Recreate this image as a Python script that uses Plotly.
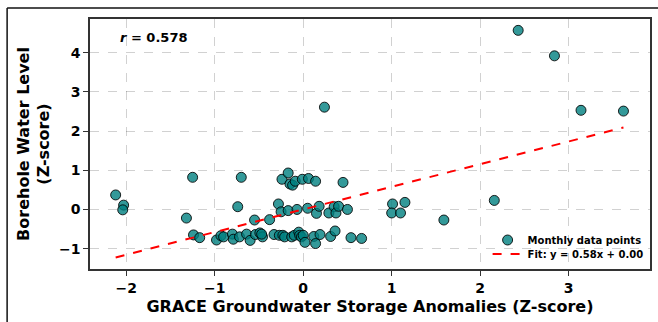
import plotly.graph_objects as go

# Data (GRACE Z-score vs borehole Z-score)
grace_z = [-2.12, -2.03, -2.04, -1.32, -1.25, -1.24, -1.17, -0.98, -0.93, -0.90,
           -0.80, -0.79, -0.74, -0.70, -0.72, -0.64, -0.60, -0.55, -0.54, -0.49,
           -0.46, -0.47, -0.38, -0.33, -0.28, -0.27, -0.25, -0.24, -0.23, -0.21,
           -0.17, -0.17, -0.15, -0.13, -0.12, -0.10, -0.09, -0.07, -0.05, -0.04,
           -0.01, -0.02, 0.00, 0.02, 0.05, 0.06, 0.12, 0.14, 0.15, 0.14,
           0.18, 0.19, 0.24, 0.29, 0.31, 0.35, 0.36, 0.37, 0.40, 0.45,
           0.50, 0.54, 0.66, 1.01, 1.00, 1.10, 1.15, 1.59, 2.16, 2.43,
           2.84, 3.14, 3.62]
borehole_z = [0.37, 0.11, -0.01, -0.22, 0.82, -0.65, -0.72, -0.78, -0.67, -0.70,
              -0.63, -0.76, 0.07, 0.82, -0.70, -0.63, -0.79, -0.27, -0.64, -0.60,
              -0.70, -0.63, -0.26, -0.64, 0.14, -0.66, -0.06, 0.77, -0.66, -0.70,
              0.93, -0.03, 0.65, -0.70, 0.62, -0.66, 0.72, 0.00, -0.58, -0.66,
              0.77, -0.70, -0.66, -0.84, 0.03, 0.79, -0.69, 0.72, -0.10, -0.87,
              0.08, -0.64, 2.61, -0.09, -0.69, 0.07, -0.55, -0.09, 0.08, 0.69,
              0.00, -0.72, -0.74, 0.14, -0.09, -0.09, 0.18, -0.27, 0.23, 4.57,
              3.92, 2.53, 2.51]

fit_slope = 0.578
fit_intercept = 0.0
r_value = 0.578

x_range = [-2.41, 3.92]
y_range = [-1.52, 4.86]
x_ticks = [-2, -1, 0, 1, 2, 3]
y_ticks = [-1, 0, 1, 2, 3, 4]

fit_x = [min(grace_z), max(grace_z)]
fit_y = [fit_slope * v + fit_intercept for v in fit_x]

FONT = "DejaVu Sans"

fig = go.Figure()
fig.add_trace(go.Scatter(
    x=grace_z, y=borehole_z, mode="markers", name="<b>Monthly data points</b>",
    marker=dict(size=10, color="rgba(0,128,128,0.8)",
                line=dict(color="rgba(0,0,0,0.85)", width=1)),
    legend="legend",
))
fig.add_trace(go.Scatter(
    x=fit_x, y=fit_y, mode="lines",
    name=f"<b>Fit: y = {fit_slope:.2f}x + {fit_intercept:.2f}</b>",
    line=dict(color="red", width=2, dash="dash"),
    legend="legend2",
))

axis_common = dict(
    showline=True, linecolor="#333333", linewidth=1.5, mirror=True,
    ticks="outside", ticklen=5, tickwidth=1.2, tickcolor="#333333",
    showgrid=True, gridcolor="rgba(0,0,0,0.18)", griddash="dash", gridwidth=1,
    zeroline=False,
    tickfont=dict(family=FONT, size=14, color="black", weight="bold"),
)

legend_common = dict(
    xanchor="left", yanchor="middle",
    bgcolor="rgba(0,0,0,0)", borderwidth=0,
    font=dict(family=FONT, size=10, color="black"),
    itemwidth=30,
)

fig.update_layout(
    width=658, height=322,
    margin=dict(l=90, r=6, t=19, b=53),
    paper_bgcolor="white", plot_bgcolor="white",
    font=dict(family=FONT, color="black"),
    xaxis=dict(range=x_range, tickvals=x_ticks,
               title=dict(text="<b>GRACE Groundwater Storage Anomalies (Z-score)</b>",
                          font=dict(family=FONT, size=16, color="black"), standoff=6),
               **axis_common),
    yaxis=dict(range=y_range, tickvals=y_ticks,
               title=dict(text="<b>Borehole Water Level<br>(Z-score)</b>",
                          font=dict(family=FONT, size=16, color="black"), standoff=5),
               **axis_common),
    legend=dict(x=0.71, y=0.116, **legend_common),
    legend2=dict(x=0.71, y=0.06, **legend_common),
    showlegend=True,
)

fig.add_annotation(
    xref="paper", yref="paper", x=0.05, y=0.966, xanchor="left", yanchor="top",
    text=f"<b><i>r</i> = {r_value:.3f}</b>", showarrow=False,
    font=dict(family=FONT, size=13, color="black"),
)

# outer frame lines (top and left) as in the reference screenshot
fig.add_shape(type="line", xref="paper", yref="paper",
              x0=-0.148, x1=1.02, y0=1.044, y1=1.044,
              line=dict(color="#111111", width=1.5))
fig.add_shape(type="line", xref="paper", yref="paper",
              x0=-0.148, x1=-0.148, y0=-0.25, y1=1.044,
              line=dict(color="#111111", width=1.5))

fig.write_html("out.html")
